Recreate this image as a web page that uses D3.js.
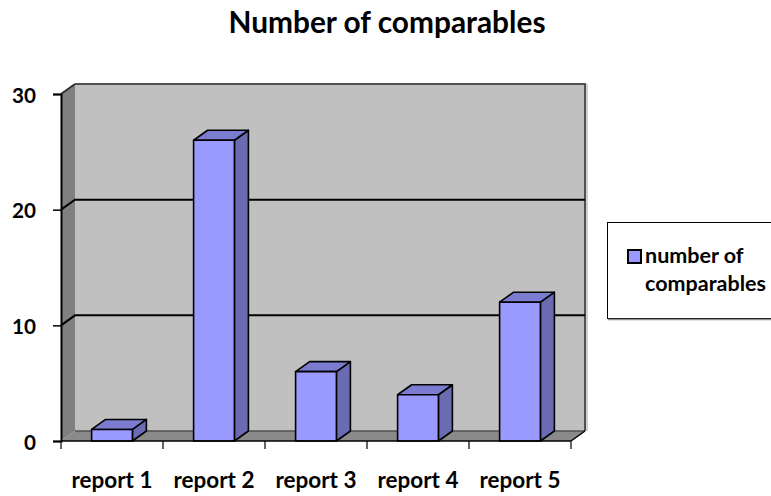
<!DOCTYPE html>
<html>
<head>
<meta charset="utf-8">
<script src="https://cdn.jsdelivr.net/npm/d3@7/dist/d3.min.js"></script>
<style>
  html, body { margin: 0; padding: 0; background: #fff; }
  svg { display: block; }
  text { font-family: Lato, "Open Sans", "Liberation Sans", sans-serif; font-weight: bold; fill: #000; }
</style>
</head>
<body>
<svg id="chart" width="771" height="496"></svg>
<script>
// Chart data
const categories = ["report 1", "report 2", "report 3", "report 4", "report 5"];
const values = [1, 26, 6, 4, 12];
const yTicks = [0, 10, 20, 30];
const seriesName = ["number of", "comparables"];
const titleText = "Number of comparables";

const svg = d3.select("#chart");

// Plot frame (front plane) and depth offset of the 3D box
const plotL = 61, plotR = 571, plotT = 94, plotB = 441;
const DX = 14, DY = -10;

const x = d3.scaleBand().domain(categories).range([plotL, plotR])
  .paddingInner(0.6).paddingOuter(0.3);
const y = d3.scaleLinear().domain([0, 30]).range([plotB, plotT]);
const step = x.step();
const bandStart = i => plotL + i * step;

// Size a text node so its width equals a target width
function fitFont(sel, target, base) {
  sel.style("font-size", base + "px");
  const w = sel.node().getComputedTextLength();
  const size = (base * target / w).toFixed(2) + "px";
  sel.style("font-size", size);
  return size;
}

const pts = a => a.map(p => p.join(",")).join(" ");

// Back wall
svg.append("rect")
  .attr("x", plotL + DX).attr("y", y(30) + DY)
  .attr("width", plotR - plotL).attr("height", y(0) - y(30))
  .attr("fill", "#c0c0c0");

// Left side wall
svg.append("polygon")
  .attr("points", pts([[plotL, y(30)], [plotL + DX, y(30) + DY], [plotL + DX, y(0) + DY], [plotL, y(0)]]))
  .attr("fill", "#808080");

// Floor
svg.append("polygon")
  .attr("points", pts([[plotL, y(0)], [plotL + DX, y(0) + DY], [plotR + DX, y(0) + DY], [plotR, y(0)]]))
  .attr("fill", "#8a8a8a");

// Back wall outline (top and right edges)
svg.append("polyline")
  .attr("points", pts([[plotL + DX, y(30) + DY], [plotR + DX, y(30) + DY], [plotR + DX, y(0) + DY]]))
  .attr("fill", "none").attr("stroke", "#505050").attr("stroke-width", 2);
svg.append("line")
  .attr("x1", plotR + DX + 2).attr("x2", plotR + DX + 2)
  .attr("y1", y(30) + DY).attr("y2", y(0) + DY)
  .attr("stroke", "#a0a0a0").attr("stroke-width", 1);
svg.append("line")
  .attr("x1", plotL + DX).attr("x2", plotR + DX)
  .attr("y1", y(0) + DY).attr("y2", y(0) + DY)
  .attr("stroke", "#505050").attr("stroke-width", 1.5);

// Gridlines across side wall and back wall
const grid = svg.append("g");
yTicks.filter(t => t > 0 && t < 30).forEach(t => {
  grid.append("polyline")
    .attr("points", pts([[plotL, y(t)], [plotL + DX, y(t) + DY], [plotR + DX, y(t) + DY]]))
    .attr("fill", "none").attr("stroke", "#000").attr("stroke-width", 2);
});
// Top edge of the side wall
svg.append("line")
  .attr("x1", plotL).attr("y1", y(30)).attr("x2", plotL + DX).attr("y2", y(30) + DY)
  .attr("stroke", "#303030").attr("stroke-width", 2);

// 3D bars
const bars = svg.append("g");
categories.forEach((c, i) => {
  const x0 = x(c), x1 = x(c) + x.bandwidth();
  const yt = y(values[i]), yb = y(0);
  const g = bars.append("g")
    .attr("stroke", "#000").attr("stroke-width", 1.6).attr("stroke-linejoin", "round");
  g.append("polygon")
    .attr("points", pts([[x1, yt], [x1 + DX, yt + DY], [x1 + DX, yb + DY], [x1, yb]]))
    .attr("fill", "#6b6bb3");
  g.append("polygon")
    .attr("points", pts([[x0, yt], [x0 + DX, yt + DY], [x1 + DX, yt + DY], [x1, yt]]))
    .attr("fill", "#7b7bd0");
  g.append("rect")
    .attr("x", x0).attr("y", yt).attr("width", x1 - x0).attr("height", yb - yt)
    .attr("fill", "#9999ff");
});

// Floor front edge and right edge
svg.append("line")
  .attr("x1", plotL).attr("x2", plotR).attr("y1", y(0)).attr("y2", y(0))
  .attr("stroke", "#000").attr("stroke-width", 1.5);
svg.append("line")
  .attr("x1", plotR).attr("y1", y(0)).attr("x2", plotR + DX).attr("y2", y(0) + DY)
  .attr("stroke", "#000").attr("stroke-width", 1.5);

// Y axis
const yAxis = svg.append("g")
  .attr("transform", `translate(${plotL},0)`)
  .call(d3.axisLeft(y).tickValues(yTicks).tickSize(8).tickPadding(17));
yAxis.select(".domain").attr("stroke", "#000").attr("stroke-width", 2);
yAxis.selectAll(".tick line").attr("stroke", "#000").attr("stroke-width", 1.5);
const yLabels = yAxis.selectAll(".tick text")
  .attr("font-family", null).attr("font-size", null).attr("dy", "0.4em");
const ySize = fitFont(yLabels.filter(d => d === 30), 24, 20);
yLabels.style("font-size", ySize);

// Category boundary ticks below the floor
const xTickPos = d3.range(categories.length + 1).map(bandStart);
svg.append("g").selectAll("line").data(xTickPos).join("line")
  .attr("x1", d => d).attr("x2", d => d)
  .attr("y1", y(0)).attr("y2", y(0) + 8)
  .attr("stroke", "#000").attr("stroke-width", 1.2);

// Category labels
const xl = svg.append("g").selectAll("text").data(categories).join("text")
  .attr("x", (d, i) => bandStart(i) + step / 2)
  .attr("y", 488)
  .attr("text-anchor", "middle")
  .text(d => d);
const xSize = fitFont(xl.filter((d, i) => i === 1), 81, 20);
xl.style("font-size", xSize);

// Title
const title = svg.append("text")
  .attr("x", 387).attr("y", 33)
  .attr("text-anchor", "middle")
  .text(titleText);
fitFont(title, 317, 26);

// Legend
const lg = svg.append("g");
lg.append("rect")
  .attr("x", 607.5).attr("y", 222.5).attr("width", 180).attr("height", 96)
  .attr("fill", "#fff").attr("stroke", "#000").attr("stroke-width", 1);
lg.append("line")
  .attr("x1", 608).attr("x2", 771).attr("y1", 319.5).attr("y2", 319.5)
  .attr("stroke", "#909090").attr("stroke-width", 1.5);
lg.append("rect")
  .attr("x", 628).attr("y", 250).attr("width", 13).attr("height", 13)
  .attr("fill", "#9999ff").attr("stroke", "#000").attr("stroke-width", 2);
const lt = lg.selectAll("text.leg").data(seriesName).join("text")
  .attr("class", "leg")
  .attr("x", 645)
  .attr("y", (d, i) => 263 + i * 28)
  .text(d => d);
const lSize = fitFont(lt.filter((d, i) => i === 1), 121, 18);
lt.style("font-size", lSize);
</script>
</body>
</html>
